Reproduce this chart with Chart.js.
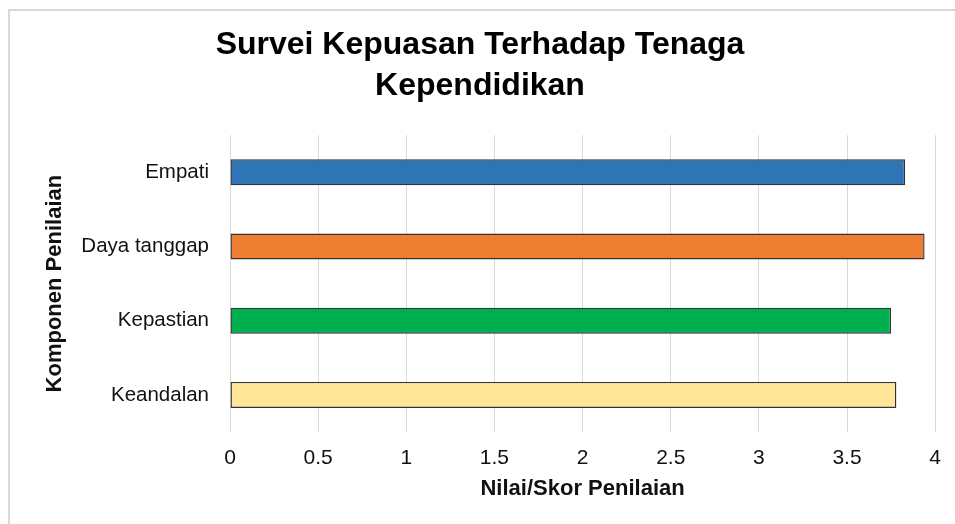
<!DOCTYPE html>
<html>
<head>
<meta charset="utf-8">
<script src="https://cdn.jsdelivr.net/npm/chart.js@4.4.1/dist/chart.umd.min.js"></script>
<style>
  html, body { margin: 0; padding: 0; background: #fff; overflow: hidden; }
  .frame { position: absolute; left: 8px; top: 9px; width: 1000px; height: 600px;
           border-top: 2px solid #d9d9d9; border-left: 2px solid #d9d9d9; }
  .wrap { position: absolute; left: 0; top: 0; width: 955px; height: 524px; }
</style>
</head>
<body>
<div class="frame"></div>
<div class="wrap"><canvas id="chart" width="955" height="524"></canvas></div>
<script>
// du lieu bieu do
const categories = ['Empati', 'Daya tanggap', 'Kepastian', 'Keandalan'];
const scores = [3.83, 3.94, 3.75, 3.78];
const barColors = ['#2E75B6', '#ED7D31', '#00B050', '#FFE699'];
const xTicks = [0, 0.5, 1, 1.5, 2, 2.5, 3, 3.5, 4];

const FONT = '"Liberation Sans", Arial, sans-serif';

const ctx = document.getElementById('chart').getContext('2d');
new Chart(ctx, {
  type: 'bar',
  data: {
    labels: categories,
    datasets: [{
      data: scores,
      backgroundColor: barColors,
      borderColor: '#333333',
      borderWidth: 1.4,
      borderSkipped: false,
      categoryPercentage: 1,
      barPercentage: 0.35
    }]
  },
  options: {
    indexAxis: 'y',
    responsive: false,
    animation: false,
    layout: { padding: { left: 24, right: 19, top: 0, bottom: 0 } },
    plugins: {
      legend: { display: false },
      tooltip: { enabled: false },
      title: {
        display: true,
        text: ['Survei Kepuasan Terhadap Tenaga', 'Kependidikan'],
        color: '#000',
        font: { family: FONT, size: 32, weight: 'bold', lineHeight: 1.3 },
        padding: { top: 24, bottom: 28 }
      }
    },
    scales: {
      x: {
        min: 0,
        max: 4,
        afterBuildTicks: (scale) => { scale.ticks = xTicks.map(v => ({ value: v })); },
        grid: { color: '#d9d9d9', drawTicks: false, lineWidth: 1 },
        border: { display: false },
        ticks: {
          color: '#111',
          padding: 14,
          font: { family: FONT, size: 21 },
          callback: (v) => String(v)
        },
        title: {
          display: true,
          text: 'Nilai/Skor Penilaian',
          color: '#111',
          font: { family: FONT, size: 22, weight: 'bold' },
          padding: { top: 4, bottom: 22 }
        },
        afterFit: (scale) => { scale.height = 92; }
      },
      y: {
        grid: { display: false, drawTicks: false },
        border: { display: false },
        ticks: {
          color: '#111',
          padding: 21,
          font: { family: FONT, size: 20.5 }
        },
        title: {
          display: true,
          text: 'Komponen Penilaian',
          color: '#111',
          font: { family: FONT, size: 22, weight: 'bold' },
          padding: { top: 18, bottom: 0 }
        },
        afterFit: (scale) => { scale.width = 206; }
      }
    }
  }
});
</script>
</body>
</html>
